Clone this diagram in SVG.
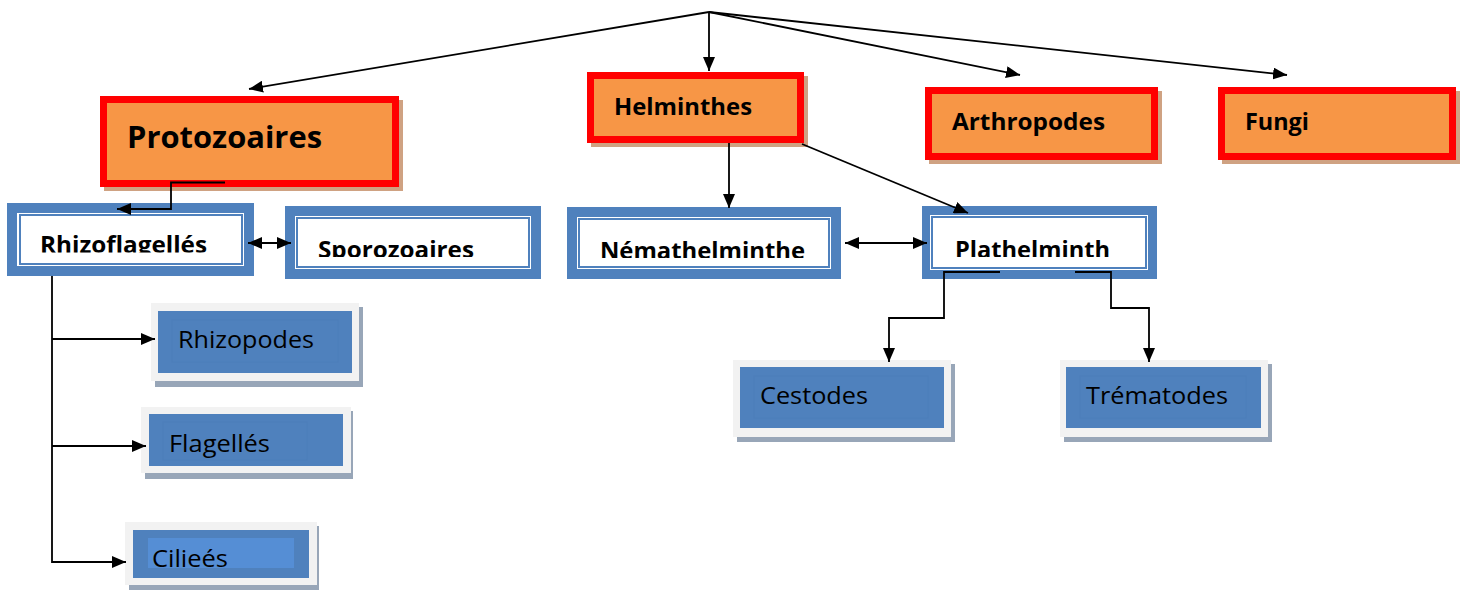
<svg xmlns="http://www.w3.org/2000/svg" width="1463" height="590" viewBox="0 0 1463 590">
<style>
.bg{fill:#ffffff}
.rshadow{fill:#CFA282}
.rbox{fill:#F79646;stroke:#FF0000;stroke-width:7}
.btxt{font-family:"Open Sans","Liberation Sans",sans-serif;font-weight:bold;fill:#000}
.rtxt{font-family:"Open Sans","Liberation Sans",sans-serif;font-size:24px;fill:#000}
.bout{fill:#4F81BD}
.bwhite{fill:#ffffff}
.bin{fill:#ffffff;stroke:#4F81BD;stroke-width:2}
.lshadow{fill:#98A6B8}
.lframe{fill:#F2F2F2}
.lfill{fill:#4F81BD}
.lin{fill:none;stroke:#4D7EBA;stroke-width:1}
.conn{fill:none;stroke:#000;stroke-width:1.8}
</style>
<defs>
<marker id="ah" viewBox="0 0 14 12" refX="14" refY="6" markerWidth="14" markerHeight="12" markerUnits="userSpaceOnUse" orient="auto-start-reverse">
<path d="M0,0 L14,6 L0,12 z" fill="#000"/>
</marker>
<clipPath id="c1"><rect x="20" y="215" width="222" height="37.5"/></clipPath>
<clipPath id="c2"><rect x="297" y="218" width="232" height="39"/></clipPath>
<clipPath id="c3"><rect x="579" y="219" width="250" height="39"/></clipPath>
<clipPath id="c4"><rect x="932" y="217" width="214" height="40"/></clipPath>
</defs>
<rect class="bg" x="0" y="0" width="1463" height="590"/>

<g id="protozoaires">
<rect class="rshadow" x="104" y="100" width="299" height="91"/>
<rect class="rbox" x="103.5" y="99.5" width="292" height="84"/>
<text class="btxt" x="127" y="148" font-size="31" textLength="195" lengthAdjust="spacingAndGlyphs">Protozoaires</text>
</g>
<g id="helminthes">
<rect class="rshadow" x="591" y="76" width="217" height="71"/>
<rect class="rbox" x="590.5" y="75.5" width="210" height="64"/>
<text class="btxt" x="614" y="115" font-size="24" textLength="138" lengthAdjust="spacingAndGlyphs">Helminthes</text>
</g>
<g id="arthropodes">
<rect class="rshadow" x="929" y="91" width="233" height="73"/>
<rect class="rbox" x="928.5" y="90.5" width="226" height="66"/>
<text class="btxt" x="952" y="130" font-size="24" textLength="153" lengthAdjust="spacingAndGlyphs">Arthropodes</text>
</g>
<g id="fungi">
<rect class="rshadow" x="1222" y="91" width="238" height="73"/>
<rect class="rbox" x="1221.5" y="90.5" width="231" height="66"/>
<text class="btxt" x="1245" y="130" font-size="24" textLength="64" lengthAdjust="spacingAndGlyphs">Fungi</text>
</g>

<g id="rhizoflagelles">
<rect class="bout" x="7" y="203" width="247" height="73"/>
<rect class="bwhite" x="17" y="213" width="227" height="53"/>
<rect class="bin" x="20" y="215" width="222" height="49"/>
<text class="btxt" x="40" y="253" font-size="24" textLength="167" lengthAdjust="spacingAndGlyphs" clip-path="url(#c1)">Rhizoflagellés</text>
</g>
<g id="sporozoaires">
<rect class="bout" x="285" y="206" width="256" height="73"/>
<rect class="bwhite" x="295" y="216" width="236" height="53"/>
<rect class="bin" x="297" y="218" width="232" height="49"/>
<text class="btxt" x="318" y="258" font-size="24" textLength="156" lengthAdjust="spacingAndGlyphs" clip-path="url(#c2)">Sporozoaires</text>
</g>
<g id="nemathelminthe">
<rect class="bout" x="567" y="207" width="274" height="72"/>
<rect class="bwhite" x="577" y="217" width="254" height="52"/>
<rect class="bin" x="579" y="219" width="250" height="48"/>
<text class="btxt" x="600" y="259" font-size="24" textLength="205" lengthAdjust="spacingAndGlyphs" clip-path="url(#c3)">Némathelminthe</text>
</g>
<g id="plathelminth">
<rect class="bout" x="922" y="206" width="235" height="73"/>
<rect class="bwhite" x="930" y="215" width="218" height="55"/>
<rect class="bin" x="932" y="217" width="214" height="51"/>
<text class="btxt" x="955" y="258" font-size="24" textLength="155" lengthAdjust="spacingAndGlyphs" clip-path="url(#c4)">Plathelminth</text>
</g>

<g id="rhizopodes">
<rect class="lshadow" x="155" y="307" width="208" height="80"/>
<rect class="lframe" x="151" y="303" width="208" height="78"/>
<rect class="lfill" x="158" y="311" width="194" height="62"/>
<rect class="lin" x="172" y="320" width="166" height="42"/>
<text class="rtxt" x="178" y="348" textLength="136" lengthAdjust="spacingAndGlyphs">Rhizopodes</text>
</g>
<g id="flagelles">
<rect class="lshadow" x="145" y="411" width="208" height="68"/>
<rect class="lframe" x="141" y="407" width="210" height="66"/>
<rect class="lfill" x="149" y="414" width="194" height="52"/>
<rect class="lin" x="163" y="422" width="144" height="38"/>
<text class="rtxt" x="169" y="452" textLength="101" lengthAdjust="spacingAndGlyphs">Flagellés</text>
</g>
<g id="cilieés">
<rect class="lshadow" x="129" y="526" width="190" height="64"/>
<rect class="lframe" x="125" y="522" width="192" height="63"/>
<rect class="lfill" x="133" y="530" width="176" height="48"/>
<rect x="148" y="538" width="146" height="30" fill="#558ED5"/>
<text class="rtxt" x="152" y="567" textLength="76" lengthAdjust="spacingAndGlyphs">Cilieés</text>
</g>
<g id="cestodes">
<rect class="lshadow" x="737" y="364" width="218" height="78"/>
<rect class="lframe" x="733" y="360" width="218" height="77"/>
<rect class="lfill" x="740" y="367" width="204" height="61"/>
<rect class="lin" x="754" y="376" width="174" height="42"/>
<text class="rtxt" x="760" y="404" textLength="108" lengthAdjust="spacingAndGlyphs">Cestodes</text>
</g>
<g id="trematodes">
<rect class="lshadow" x="1064" y="364" width="208" height="78"/>
<rect class="lframe" x="1060" y="360" width="208" height="77"/>
<rect class="lfill" x="1066" y="367" width="195" height="61"/>
<rect class="lin" x="1080" y="376" width="166" height="42"/>
<text class="rtxt" x="1086" y="404" textLength="142" lengthAdjust="spacingAndGlyphs">Trématodes</text>
</g>

<g id="connectors">
<path class="conn" d="M709,12 L249,89" marker-end="url(#ah)"/>
<path class="conn" d="M709,12 L709,71" marker-end="url(#ah)"/>
<path class="conn" d="M709,12 L1020,75" marker-end="url(#ah)"/>
<path class="conn" d="M709,12 L1287,75" marker-end="url(#ah)"/>
<path class="conn" d="M225,182.5 L171,182.5 L171,209 L117,209" marker-end="url(#ah)"/>
<path class="conn" d="M248,243 L291,243" marker-start="url(#ah)" marker-end="url(#ah)"/>
<path class="conn" d="M729,143 L729,208" marker-end="url(#ah)"/>
<path class="conn" d="M802,144 L968,213" marker-end="url(#ah)"/>
<path class="conn" d="M845,243 L927,243" marker-start="url(#ah)" marker-end="url(#ah)"/>
<path class="conn" d="M1000,272 L944,272 L944,318 L889,318 L889,362" marker-end="url(#ah)"/>
<path class="conn" d="M1075,272 L1111,272 L1111,308 L1149,308 L1149,362" marker-end="url(#ah)"/>
<path class="conn" d="M52,276 L52,562 L126,562" marker-end="url(#ah)"/>
<path class="conn" d="M52,339 L155,339" marker-end="url(#ah)"/>
<path class="conn" d="M52,446 L146,446" marker-end="url(#ah)"/>
</g>
</svg>
